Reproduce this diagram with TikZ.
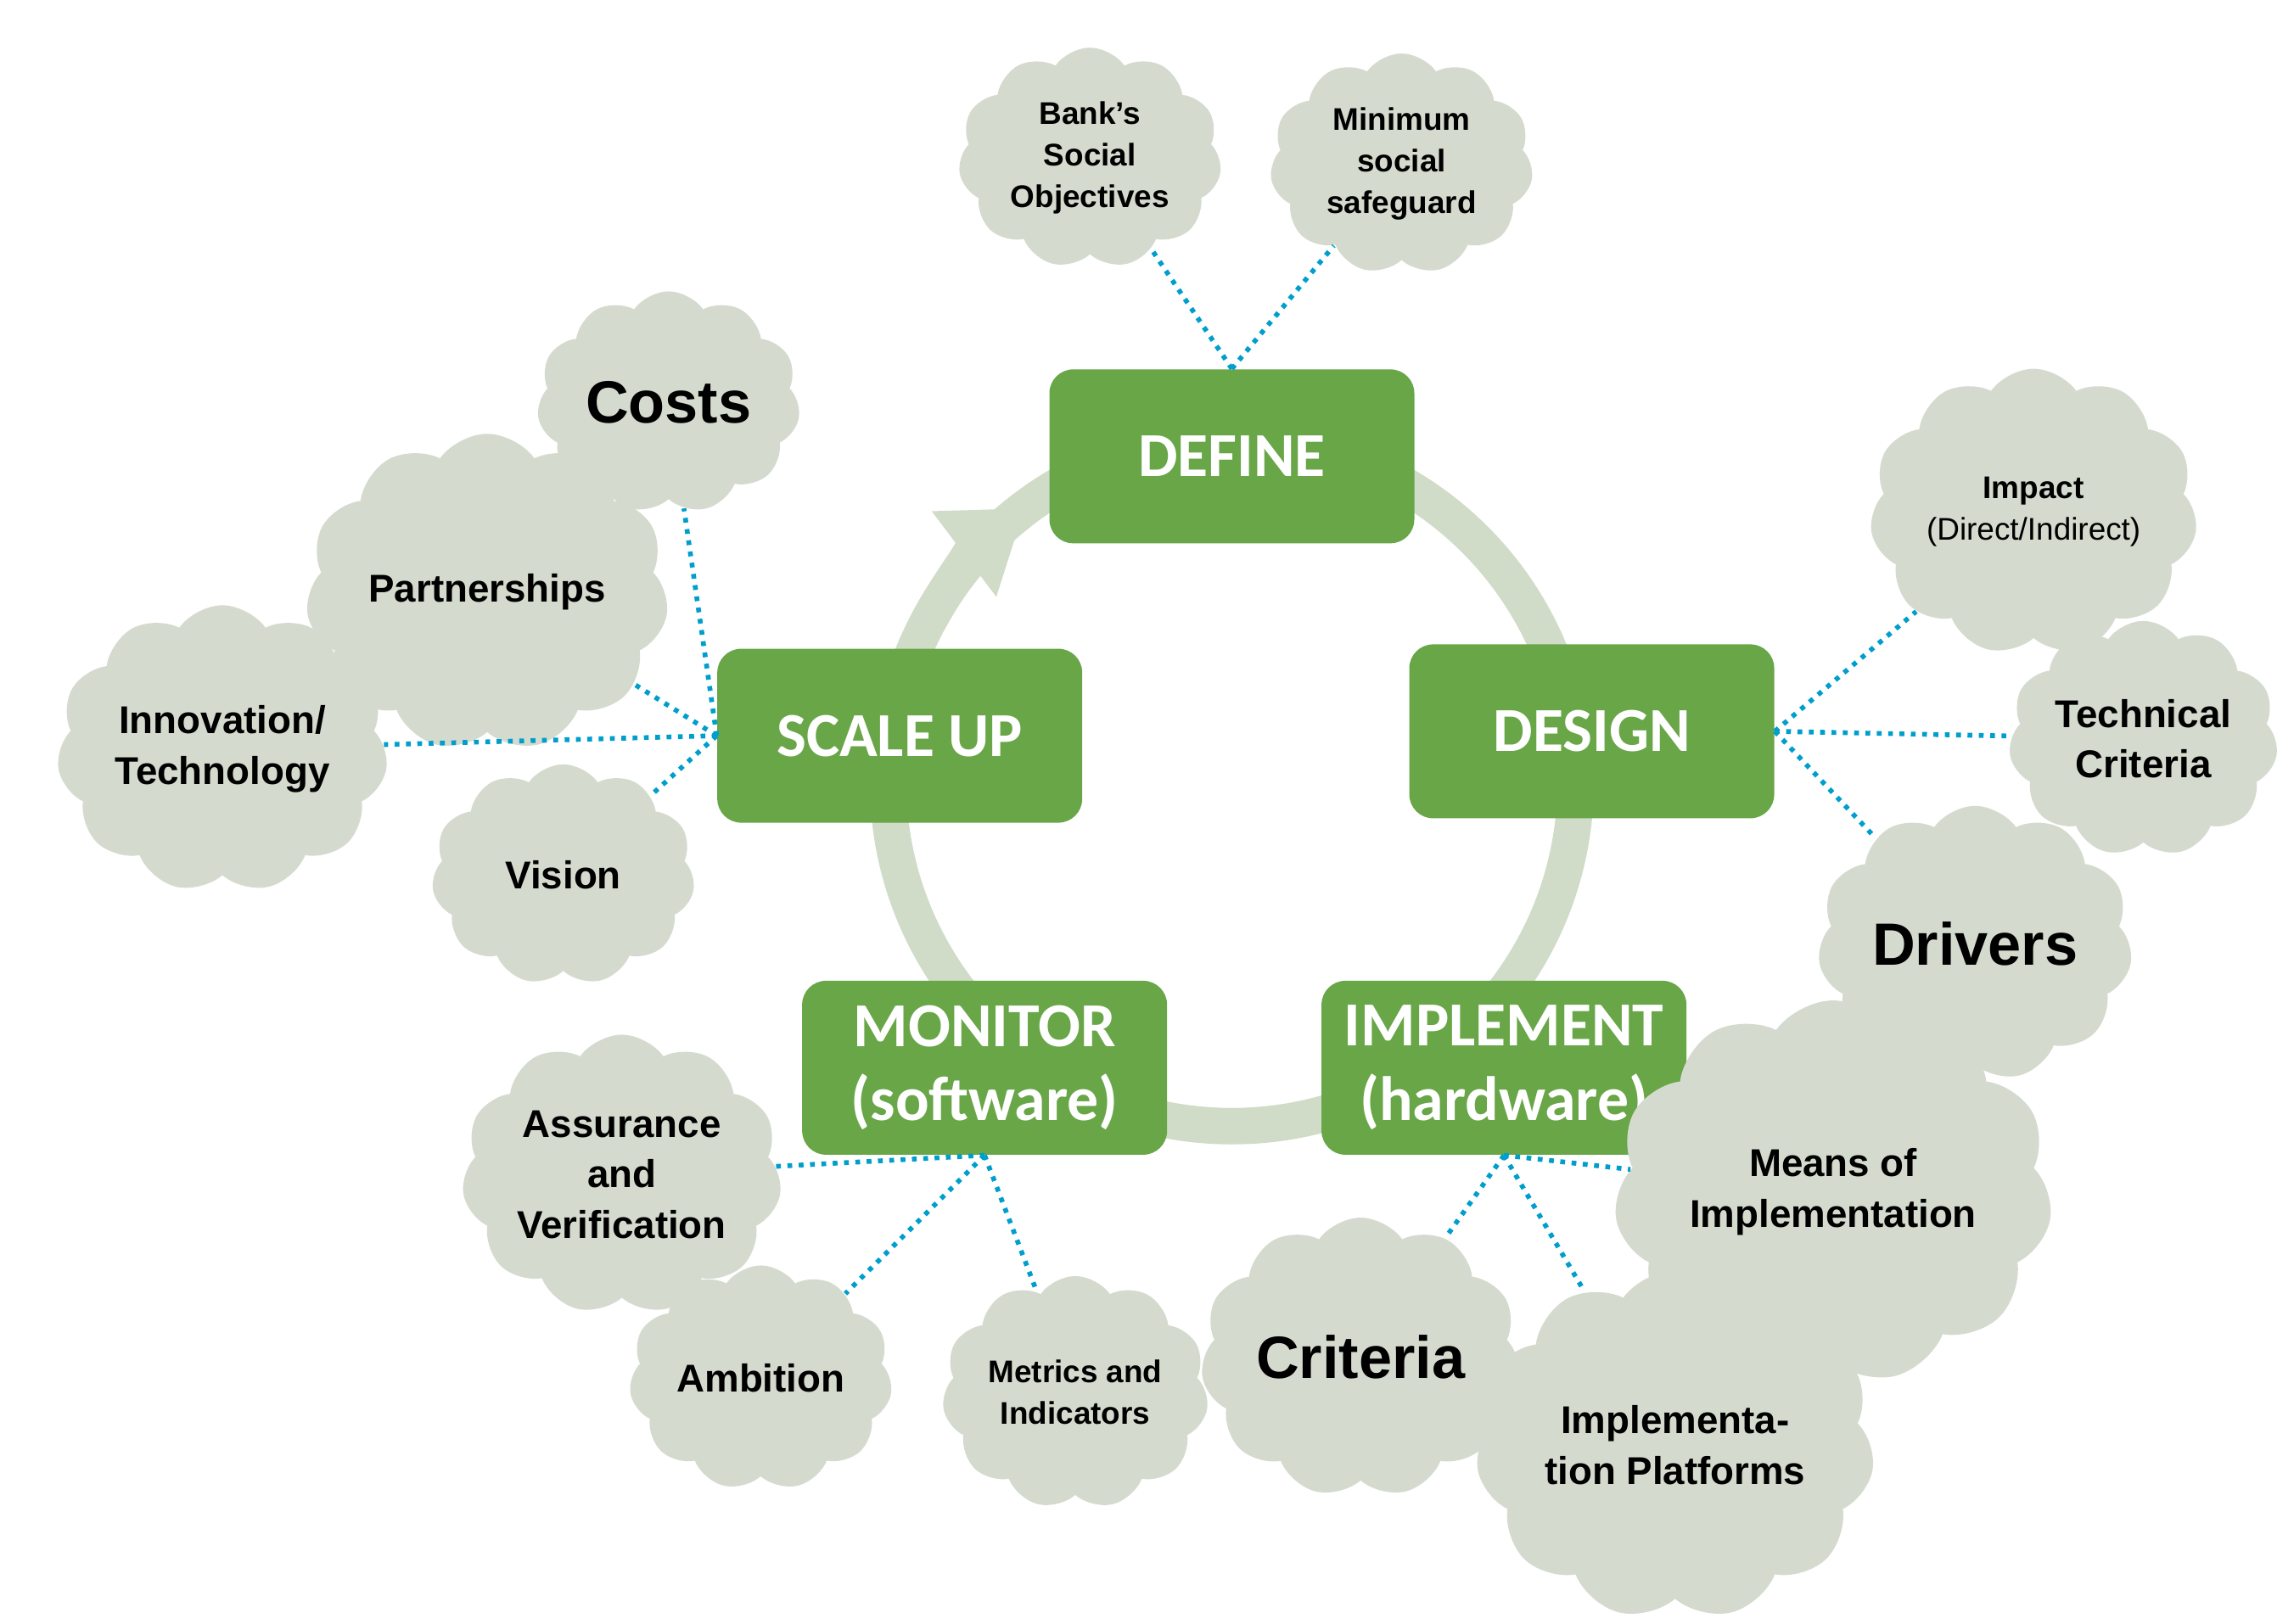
\documentclass[tikz,border=0pt]{standalone}
\usepackage{fontspec}
\setmainfont{Liberation Sans}
\newfontfamily\boxfont{Carlito}
\usetikzlibrary{shapes.symbols,arrows.meta}
\definecolor{stepgreen}{RGB}{104,166,72}
\definecolor{cloudgray}{RGB}{212,219,206}
\definecolor{ringgreen}{RGB}{208,220,200}
\definecolor{linkblue}{RGB}{0,158,204}

\begin{document}
\begin{tikzpicture}[
    x=0.1724mm, y=-0.1724mm,
    stage/.style={rectangle, rounded corners=8pt, fill=stepgreen, text=white, minimum width=4.3cm, minimum height=2.05cm, align=center, font=\boxfont\fontsize{21}{25}\selectfont\bfseries},
    idea/.style={cloud, cloud puffs=11, cloud puff arc=110, aspect=1.2, fill=cloudgray, minimum width=3.1cm, minimum height=2.6cm, inner sep=0pt, align=center, font=\fontsize{13}{17}\selectfont\bfseries},
    small/.style={font=\fontsize{10.5}{14}\selectfont\bfseries},
    big/.style={font=\fontsize{20}{24}\selectfont\bfseries},
    link/.style={linkblue, line width=1.6pt, dash pattern=on 1.6pt off 2.2pt},
    ring/.style={ringgreen, line width=4.3mm}
]
    \useasboundingbox (0,0) rectangle (1568,1110);

    % cycle ring
    \coordinate (c) at (842,535);
    \draw[ring] (c) circle[radius=4.05cm];
    \draw[ring, -{Triangle[length=9mm,width=12mm]}] ([shift={(152:4.05cm)}]c) arc[start angle=152, end angle=127, radius=4.05cm];

    % stages
    \node[stage] (define) at (842,312) {DEFINE};
    \node[stage] (scale) at (615,503) {SCALE UP};
    \node[stage] (design) at (1088,500) {DESIGN};
    \node[stage] (monitor) at (673,730) {MONITOR\\(software)};
    \node[stage] (implement) at (1028,730) {IMPLEMENT\\(hardware)};

    % clouds
    \node[idea, small] (social) at (745,108) {Bank's\\Social\\Objectives};
    \node[idea, small] (safeguard) at (958,112) {Minimum\\social\\safeguard};
    \node[idea, big] (costs) at (457,275) {Costs};
    \node[idea] (partner) at (333,405) {Partnerships};
    \node[idea, minimum width=3.9cm, minimum height=3.2cm] (innov) at (152,512) {Innovation/\\Technology};
    \node[idea] (vision) at (385,598) {Vision};
    \node[idea, small] (impact) at (1390,350) {Impact\\{\mdseries(Direct/Indirect)}};
    \node[idea] (technical) at (1465,505) {Technical\\Criteria};
    \node[idea, big] (drivers) at (1350,645) {Drivers};
    \node[idea] (assure) at (425,803) {Assurance\\and\\Verification};
    \node[idea] (ambition) at (520,942) {Ambition};
    \node[idea, small] (metrics) at (735,952) {Metrics and\\Indicators};
    \node[idea, big] (criteria) at (930,928) {Criteria};
    \node[idea, minimum width=3.6cm, minimum height=3.1cm] (platform) at (1145,988) {Implementa-\\tion Platforms};
    \node[idea, minimum width=3.7cm, minimum height=3cm] (means) at (1253,815) {Means of\\Implementation};

    % links
    \draw[link] (define.north) -- (social);
    \draw[link] (define.north) -- (safeguard);
    \draw[link] (scale.west) -- (costs);
    \draw[link] (scale.west) -- (partner);
    \draw[link] (scale.west) -- (innov);
    \draw[link] (scale.west) -- (vision);
    \draw[link] (design.east) -- (impact);
    \draw[link] (design.east) -- (technical);
    \draw[link] (design.east) -- (drivers);
    \draw[link] (monitor.south) -- (assure);
    \draw[link] (monitor.south) -- (ambition);
    \draw[link] (monitor.south) -- (metrics);
    \draw[link] (implement.south) -- (criteria);
    \draw[link] (implement.south) -- (platform);
    \draw[link] (implement.south) -- (means);
\end{tikzpicture}
\end{document}
